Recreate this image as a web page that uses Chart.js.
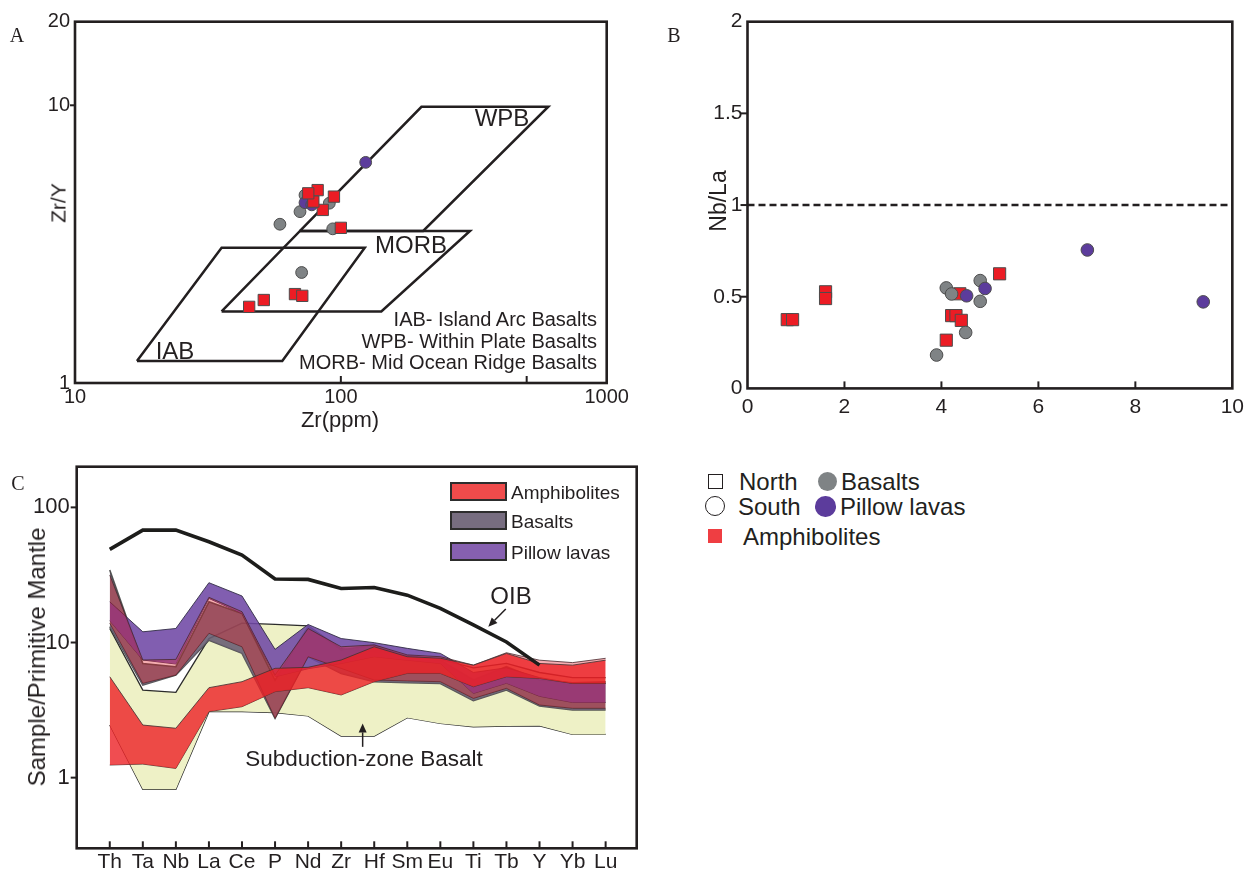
<!DOCTYPE html>
<html><head><meta charset="utf-8">
<script src="https://cdn.jsdelivr.net/npm/chart.js@4/dist/chart.umd.min.js"></script>
<style>
body{margin:0;background:#fff;}
#page{position:relative;width:1250px;height:872px;overflow:hidden;font-family:'Liberation Sans',Arial,Helvetica,sans-serif;color:#231f20;background:#fff;}
canvas{position:absolute;}
.t{position:absolute;white-space:nowrap;line-height:1;}
.c{transform:translate(-50%,-50%);}
.r{transform:translate(-50%,-50%) rotate(-90deg);}
.rt{transform:translateY(-50%);text-align:right;}
.l{transform:translateY(-50%);}
.serif{font-family:'Liberation Serif','Times New Roman',serif;}
.sw{position:absolute;box-sizing:border-box;border:2px solid #2d2d2d;}
.mk{position:absolute;box-sizing:border-box;}
</style></head><body><div id="page">
<canvas id="chartA" width="650" height="440" style="left:0;top:0"></canvas>
<canvas id="chartB" width="600" height="440" style="left:650px;top:0"></canvas>
<canvas id="chartC" width="660" height="432" style="left:0;top:440px"></canvas>

<div class="t serif c" style="left:17px;top:35px;font-size:20px">A</div>
<div class="t serif c" style="left:674px;top:35px;font-size:20px">B</div>
<div class="t serif c" style="left:18px;top:483px;font-size:20px">C</div>

<div class="t r" style="left:58px;top:203px;font-size:21px">Zr/Y</div>
<div class="t c" style="left:340px;top:420px;font-size:22px">Zr(ppm)</div>
<div class="t c" style="left:502px;top:118px;font-size:24px">WPB</div>
<div class="t c" style="left:411px;top:245px;font-size:24px">MORB</div>
<div class="t c" style="left:175px;top:351px;font-size:24px">IAB</div>
<div class="t rt" style="right:653px;top:319px;font-size:20px">IAB- Island Arc Basalts</div>
<div class="t rt" style="right:653px;top:340.5px;font-size:20px">WPB- Within Plate Basalts</div>
<div class="t rt" style="right:653px;top:362px;font-size:20px">MORB- Mid Ocean Ridge Basalts</div>

<div class="t r" style="left:718px;top:201px;font-size:23px">Nb/La</div>

<div class="t r" style="left:37px;top:657px;font-size:24px">Sample/Primitive Mantle</div>
<div class="t c" style="left:511px;top:596px;font-size:24px">OIB</div>
<div class="t c" style="left:364px;top:759px;font-size:22.5px">Subduction-zone Basalt</div>

<div class="sw" style="left:450px;top:482px;width:57px;height:19px;background:#ef4b4b"></div>
<div class="t l" style="left:511px;top:491.5px;font-size:19px">Amphibolites</div>
<div class="sw" style="left:450px;top:511px;width:57px;height:19px;background:#776d80"></div>
<div class="t l" style="left:511px;top:520.5px;font-size:19px">Basalts</div>
<div class="sw" style="left:450px;top:542px;width:57px;height:19px;background:#8660b0"></div>
<div class="t l" style="left:511px;top:551.5px;font-size:19px">Pillow lavas</div>

<div class="mk" style="left:708px;top:474px;width:15px;height:15px;border:1.5px solid #231f20"></div>
<div class="t l" style="left:739px;top:482px;font-size:24px">North</div>
<div class="mk" style="left:818px;top:471.5px;width:19px;height:19px;border-radius:50%;background:#7f8385"></div>
<div class="t l" style="left:841px;top:482px;font-size:24px">Basalts</div>
<div class="mk" style="left:705px;top:496px;width:20px;height:20px;border-radius:50%;border:1.5px solid #231f20"></div>
<div class="t l" style="left:738px;top:506.5px;font-size:24px">South</div>
<div class="mk" style="left:815px;top:496px;width:20.5px;height:20.5px;border-radius:50%;background:#5c3c9c"></div>
<div class="t l" style="left:840px;top:506.5px;font-size:24px">Pillow lavas</div>
<div class="mk" style="left:708px;top:529px;width:14px;height:14px;background:#ef3e42"></div>
<div class="t l" style="left:743px;top:537px;font-size:24px">Amphibolites</div>
</div>
<script>
const FONT = "'Liberation Sans', Arial, Helvetica, sans-serif";
const INK = '#231f20';
const RED = '#ec1c24', GREY = '#7f8385', PURPLE = '#5c3c9c';

// ---------- Panel A: Zr (ppm) vs Zr/Y ----------
const aZrAmph  = [45.2, 51.3, 67.2, 71.6, 100, 94.2, 85.5, 81.8, 78.8, 75.4];
const aZrYAmph = [1.88, 1.99, 2.09, 2.06, 3.62, 4.69, 4.20, 4.95, 4.50, 4.82];
const aZrBas   = [59.0, 70.2, 73.3, 71.2, 93.2, 90.5];
const aZrYBas  = [3.73, 4.14, 4.75, 2.50, 3.59, 4.44];
const aZrPil   = [73.3, 77.7, 124];
const aZrYPil  = [4.46, 4.38, 6.23];
const iabZr  = [17.1, 60.2, 123, 35.6, 17.1];
const iabZrY = [1.2, 1.2, 3.07, 3.07, 1.2];
const morbZr  = [35.6, 142, 306, 70.2, 35.6];
const morbZrY = [1.81, 1.81, 3.53, 3.53, 1.81];
const wpbZr  = [70.2, 204, 603, 201, 70.2];
const wpbZrY = [3.53, 3.53, 9.88, 9.88, 3.53];
const aXTicks = [10, 100, 500, 1000];
const aXLabels = [10, 100, 1000];
const aYTicks = [1, 10, 20];

// ---------- Panel B: Nb/La ----------
const bXAmph = [0.82, 0.93, 1.61, 1.61, 5.20, 4.10, 4.21, 4.30, 4.41, 4.38];
const bYAmph = [0.375, 0.375, 0.527, 0.49, 0.625, 0.263, 0.397, 0.397, 0.371, 0.516];
const bXBas  = [4.10, 4.21, 4.80, 4.80, 4.50, 3.90];
const bYBas  = [0.548, 0.515, 0.588, 0.475, 0.305, 0.182];
const bXPil  = [4.52, 4.90, 7.01, 9.40];
const bYPil  = [0.505, 0.545, 0.755, 0.472];
const bRefX = [0, 10];
const bRefY = [1, 1];
const bXTicks = [0, 2, 4, 6, 8, 10];
const bYTicks = [0, 0.5, 1, 1.5, 2];

// ---------- Panel C: Primitive-mantle normalised ----------
const elements = ['Th','Ta','Nb','La','Ce','P','Nd','Zr','Hf','Sm','Eu','Ti','Tb','Y','Yb','Lu'];
const oib        = [48.9, 67.9, 67.9, 55.7, 44.4, 29.5, 29.3, 25.1, 25.5, 22.4, 17.9, 13.5, 10.1, 6.8];
const szbUpper   = [12.7, 4.45, 4.28, 10.7, 13.9, 13.6, 13.3, 9.0, 8.5, 8.0, 7.5, 6.5, 7.0, 6.0, 5.5, 5.5];
const szbLower   = [2.45, 0.82, 0.82, 3.08, 3.08, 3.03, 2.86, 2.03, 2.03, 2.78, 2.52, 2.38, 2.41, 2.42, 2.09, 2.09];
const basUpper   = [34.4, 7.0, 6.62, 20.0, 16.4, 5.28, 13.1, 8.8, 9.58, 7.85, 7.4, 5.28, 6.62, 5.28, 5.04, 5.12];
const basLower   = [13.1, 4.85, 5.74, 10.4, 8.31, 2.75, 7.85, 5.91, 5.13, 5.04, 4.98, 3.71, 4.45, 3.39, 3.17, 3.17];
const pilUpper   = [20.0, 12.0, 12.7, 27.7, 22.1, 8.9, 13.6, 10.7, 9.97, 9.05, 8.31, 6.0, 6.5, 5.5, 5.0, 5.0];
const pilLower   = [14.5, 7.42, 6.93, 21.2, 16.4, 5.58, 6.4, 7.0, 7.85, 7.4, 7.0, 4.2, 5.0, 4.0, 3.6, 3.6];
const amphAUpper = [31.6, 7.42, 7.5, 21.6, 16.9, 5.74, 12.7, 9.3, 9.6, 8.1, 7.85, 6.8, 8.4, 7.4, 7.1, 7.64];
const amphALower = [13.9, 4.99, 5.74, 11.7, 9.3, 2.75, 7.85, 6.44, 5.28, 5.2, 5.13, 3.86, 4.58, 3.45, 3.26, 3.26];
const amphBUpper = [5.58, 2.45, 2.32, 4.63, 5.13, 6.44, 6.55, 7.42, 9.3, 7.85, 7.65, 6.8, 8.3, 7.0, 6.8, 7.4];
const amphBLower = [1.24, 1.26, 1.17, 3.08, 3.35, 4.33, 4.63, 4.09, 5.13, 5.91, 5.91, 4.71, 5.58, 5.42, 4.98, 4.98];
const cYTicks = [1, 10, 100];
const oibArrow = {from: [11.98, 17.7], to: [11.45, 13.1]};
const szbArrow = {from: [7.65, 1.69], to: [7.65, 2.52]};

// ---------- helpers ----------
const pts = (xs, ys) => xs.map((x, i) => ({x, y: ys[i]}));
const idx = elements.map((_, i) => i);

function framePlugin(marks) {
  return { id: 'frame', afterDraw(chart) {
    const {ctx, chartArea: a} = chart;
    ctx.save();
    ctx.strokeStyle = INK; ctx.lineWidth = 2.6;
    ctx.strokeRect(a.left, a.top, a.right - a.left, a.bottom - a.top);
    ctx.lineWidth = 2;
    marks.forEach(m => {
      const s = chart.scales[m.axis];
      m.values.forEach(v => {
        const p = s.getPixelForValue(v);
        ctx.beginPath();
        if (m.axis === 'x') { ctx.moveTo(p, a.bottom); ctx.lineTo(p, a.bottom + m.len); }
        else { ctx.moveTo(a.left, p); ctx.lineTo(a.left + m.len, p); }
        ctx.stroke();
      });
    });
    ctx.restore();
  }};
}
function arrowPlugin(items) {
  return { id: 'arrows', afterDatasetsDraw(chart) {
    const {ctx} = chart; const xs = chart.scales.x, ys = chart.scales.y;
    ctx.save(); ctx.strokeStyle = INK; ctx.fillStyle = INK; ctx.lineWidth = 1.5;
    items.forEach(a => {
      const x1 = xs.getPixelForValue(a.from[0]), y1 = ys.getPixelForValue(a.from[1]);
      const x2 = xs.getPixelForValue(a.to[0]), y2 = ys.getPixelForValue(a.to[1]);
      const ang = Math.atan2(y2 - y1, x2 - x1), L = 9, W = 4;
      const bx = x2 - L * Math.cos(ang), by = y2 - L * Math.sin(ang);
      ctx.beginPath(); ctx.moveTo(x1, y1); ctx.lineTo(bx, by); ctx.stroke();
      ctx.beginPath(); ctx.moveTo(x2, y2);
      ctx.lineTo(bx + W * Math.sin(ang), by - W * Math.cos(ang));
      ctx.lineTo(bx - W * Math.sin(ang), by + W * Math.cos(ang));
      ctx.closePath(); ctx.fill();
    });
    ctx.restore();
  }};
}
function axis(type, min, max, ticksArr, labelFn, size, pad, fit, isX) {
  return { type, min, max,
    afterBuildTicks: s => { s.ticks = ticksArr.map(v => ({value: v})); },
    afterFit: s => { if (isX) s.height = fit; else s.width = fit; },
    ticks: { callback: labelFn, font: {family: FONT, size}, color: INK, padding: pad,
             autoSkip: false, maxRotation: 0, minRotation: 0 },
    grid: { display: false, drawTicks: false }, border: { display: false } };
}
function baseOptions(padding, scales) {
  return { responsive: false, maintainAspectRatio: false, animation: false, events: [],
    devicePixelRatio: 1, layout: {padding},
    plugins: {legend: {display: false}, tooltip: {enabled: false}}, scales };
}
function outline(xs, ys) {
  return {data: pts(xs, ys), showLine: true, fill: false, borderColor: INK, borderWidth: 2.5,
          pointRadius: 0, tension: 0, order: 10};
}
function markers(xs, ys, style, r, color, order) {
  return {data: pts(xs, ys), showLine: false, pointStyle: style, pointRadius: r,
          pointBackgroundColor: color, pointBorderColor: '#4d4d4d', pointBorderWidth: 1,
          backgroundColor: color, borderColor: '#4d4d4d', order};
}
function band(up, lo, fillColor, lineColor, lw, order) {
  return [
    {data: pts(idx, up), fill: '+1', backgroundColor: fillColor, borderColor: lineColor,
     borderWidth: lw, pointRadius: 0, tension: 0, order},
    {data: pts(idx, lo), fill: false, borderColor: lineColor, borderWidth: lw,
     pointRadius: 0, tension: 0, order}
  ];
}

// ---------- Chart A ----------
new Chart(document.getElementById('chartA'), {
  type: 'line',
  data: { datasets: [
    outline(iabZr, iabZrY), outline(morbZr, morbZrY), outline(wpbZr, wpbZrY),
    markers(aZrBas, aZrYBas, 'circle', 5.9, GREY, 4),
    markers(aZrPil, aZrYPil, 'circle', 5.9, PURPLE, 3),
    markers(aZrAmph, aZrYAmph, 'rect', 8, RED, 2)
  ]},
  options: baseOptions({left: 0, right: 43.3, top: 21.7, bottom: 0}, {
    x: axis('logarithmic', 10, 1000, aXTicks, v => aXLabels.includes(v) ? String(v) : '', 20, 2, 57, true),
    y: axis('logarithmic', 1, 20, aYTicks, v => String(v), 20, 5, 75, false)
  }),
  plugins: [framePlugin([{axis: 'x', values: [100, 500], len: -7}, {axis: 'y', values: [10], len: -5}])]
});

// ---------- Chart B ----------
new Chart(document.getElementById('chartB'), {
  type: 'line',
  data: { datasets: [
    {data: pts(bRefX, bRefY), showLine: true, fill: false, borderColor: INK, borderWidth: 2.6,
     borderDash: [7, 4], pointRadius: 0, order: 10},
    markers(bXAmph, bYAmph, 'rect', 8.6, RED, 4),
    markers(bXBas, bYBas, 'circle', 6.3, GREY, 3),
    markers(bXPil, bYPil, 'circle', 6.3, PURPLE, 2)
  ]},
  options: baseOptions({left: 0, right: 15, top: 21.7, bottom: 0}, {
    x: axis('linear', 0, 10, bXTicks, v => String(v), 21, 6, 51.6, true),
    y: axis('linear', 0, 2, bYTicks, v => String(v), 21, 5, 97.5, false)
  }),
  plugins: [framePlugin([{axis: 'x', values: [2, 4, 6, 8], len: -7}, {axis: 'y', values: [0.5, 1, 1.5], len: -7}])]
});

// ---------- Chart C ----------
new Chart(document.getElementById('chartC'), {
  type: 'line',
  data: { datasets: [
    ...band(szbUpper, szbLower, '#eef1c6', '#2b2b2b', 1.3, 60),
    ...band(basUpper, basLower, 'rgba(105,95,115,0.9)', 'rgba(70,70,70,0.9)', 1.6, 50),
    ...band(pilUpper, pilLower, 'rgba(112,72,165,0.88)', 'rgba(50,45,70,0.9)', 1, 40),
    ...band(amphAUpper, amphALower, 'rgba(228,28,40,0.36)', 'rgba(70,40,45,0.8)', 1, 30),
    ...band(amphBUpper, amphBLower, 'rgba(236,32,38,0.8)', 'rgba(70,50,50,0.85)', 1, 20),
    {data: pts(idx.slice(0, oib.length), oib), fill: false, borderColor: '#1d1d1b', borderWidth: 3.6,
     pointRadius: 0, tension: 0, order: 10}
  ]},
  options: baseOptions({left: 0, right: 23.3, top: 26.7, bottom: 0}, {
    x: axis('linear', -1, 15.94, idx, v => elements[v] ?? '', 21, 1, 23.7, true),
    y: axis('logarithmic', 0.3, 200, cYTicks, v => String(v), 22, 7, 76.7, false)
  }),
  plugins: [framePlugin([{axis: 'x', values: idx, len: -7}, {axis: 'y', values: cYTicks, len: -6}]),
            arrowPlugin([oibArrow, szbArrow])]
});
</script>
</body></html>
